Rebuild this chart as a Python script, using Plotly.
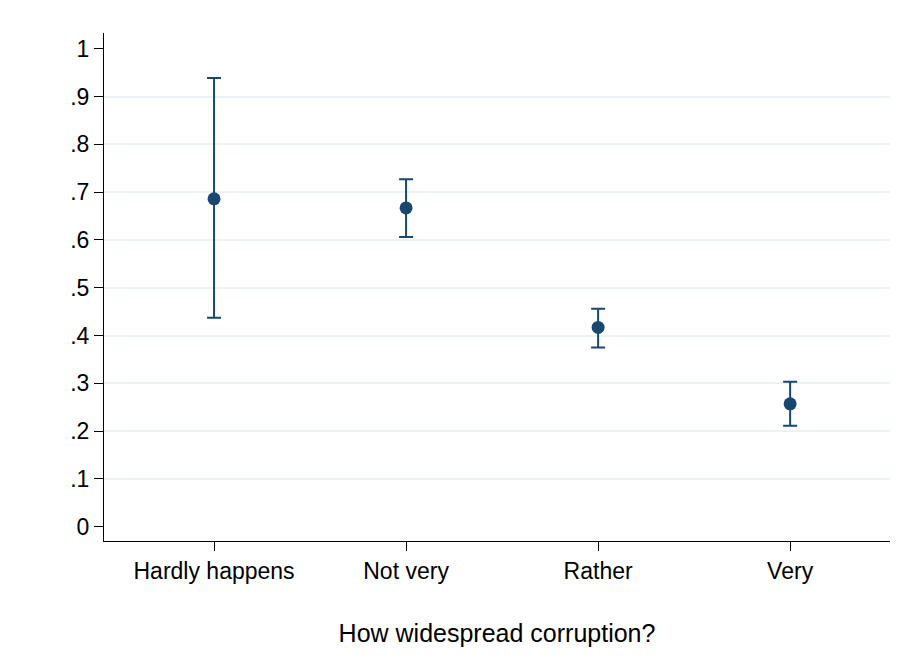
import plotly.graph_objects as go

categories = ["Hardly happens", "Not very", "Rather", "Very"]
positions = [1, 2, 3, 4]
means = [0.686, 0.667, 0.417, 0.257]
upper = [0.939, 0.727, 0.456, 0.303]
lower = [0.437, 0.606, 0.375, 0.211]
ytick_vals = [0, 0.1, 0.2, 0.3, 0.4, 0.5, 0.6, 0.7, 0.8, 0.9, 1]
ytick_text = ["0", ".1", ".2", ".3", ".4", ".5", ".6", ".7", ".8", ".9", "1"]
grid_vals = [0.1, 0.2, 0.3, 0.4, 0.5, 0.6, 0.7, 0.8, 0.9]

navy = "#1a476f"
font = "Liberation Sans, Arial, sans-serif"

fig = go.Figure()
# invisible trace for grid axis
fig.add_trace(go.Scatter(x=[positions[0]], y=[means[0]], yaxis="y2",
                         mode="markers", marker=dict(opacity=0), hoverinfo="skip",
                         showlegend=False))
fig.add_trace(go.Scatter(
    x=positions, y=means, mode="markers",
    marker=dict(color=navy, size=13),
    error_y=dict(type="data", symmetric=False,
                 array=[u - m for u, m in zip(upper, means)],
                 arrayminus=[m - l for m, l in zip(means, lower)],
                 color=navy, thickness=2, width=7),
    showlegend=False))

yr = [-0.03, 1.033]
fig.update_layout(
    width=909, height=669,
    margin=dict(l=96, r=27, t=25, b=136),
    paper_bgcolor="white", plot_bgcolor="white",
    font=dict(family=font, size=23, color="black"),
    xaxis=dict(range=[0.427, 4.52], tickvals=positions, ticktext=categories,
               showgrid=False, zeroline=False, showline=True, linecolor="black",
               linewidth=1, ticks="outside", ticklen=9, tickcolor="black",
               tickfont=dict(size=23), automargin=False,
               title=dict(text="How widespread corruption?", font=dict(size=25), standoff=41)),
    yaxis=dict(range=yr, tickvals=ytick_vals, ticktext=ytick_text,
               showgrid=False, zeroline=False, showline=True, linecolor="black",
               linewidth=1, ticks="outside", ticklen=9, tickcolor="black",
               tickfont=dict(size=23), automargin=False),
    yaxis2=dict(range=yr, overlaying="y", tickvals=grid_vals, showticklabels=False,
                showgrid=True, gridcolor="#eaf2f3", gridwidth=2, zeroline=False,
                showline=False, ticks="", automargin=False),
)
fig.update_layout(yaxis2_layer="below traces")
fig.write_html("out.html")
